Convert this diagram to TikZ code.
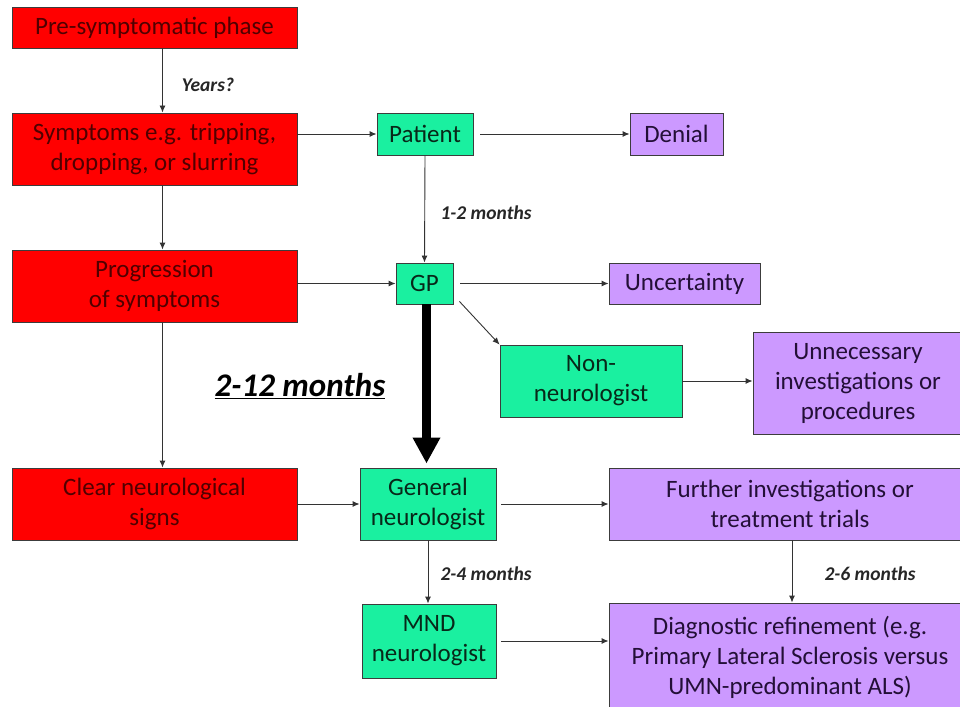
\documentclass[tikz,border=0pt]{standalone}
\usepackage{fontspec}
\setmainfont{Carlito}
\usetikzlibrary{arrows.meta, positioning}

\definecolor{boxred}{RGB}{255,0,0}
\definecolor{txtred}{RGB}{80,0,0}
\definecolor{boxgreen}{RGB}{26,240,160}
\definecolor{txtgreen}{RGB}{8,40,25}
\definecolor{boxpurple}{RGB}{204,153,255}
\definecolor{txtpurple}{RGB}{35,15,55}
\definecolor{edgegray}{RGB}{60,60,60}

\tikzstyle{phase} = [rectangle, draw=edgegray, fill=boxred, text=txtred, align=center, inner sep=0pt, line width=0.9pt, font=\fontsize{25}{30}\selectfont]
\tikzstyle{carer} = [rectangle, draw=edgegray, fill=boxgreen, text=txtgreen, align=center, inner sep=0pt, line width=0.9pt, font=\fontsize{25}{30}\selectfont]
\tikzstyle{outcome} = [rectangle, draw=edgegray, fill=boxpurple, text=txtpurple, align=center, inner sep=0pt, line width=0.9pt, font=\fontsize{25}{30}\selectfont]
\tikzstyle{delay} = [font=\fontsize{19.5}{23}\selectfont\bfseries\itshape, text=black!85]
\tikzstyle{arrow} = [line width=0.9pt, black!80, -{Latex[length=7pt,width=6pt]}]
\tikzstyle{bigarrow} = [line width=9pt, black, -{Triangle[length=26pt,width=26pt]}, shorten >=4pt]

\begin{document}
\begin{tikzpicture}[x=1pt, y=-1pt]
        \useasboundingbox (0,0) rectangle (960,706);
        \clip (0,0) rectangle (960,706);
        % Nodes
        \node (pre) [phase, minimum width=285pt, minimum height=41pt] at (154.5,27.5) {Pre-symptomatic phase};
        \node (sym) [phase, minimum width=285pt, minimum height=72pt] at (154.5,149) {Symptoms e.g. tripping,\\dropping, or slurring};
        \node (prog) [phase, minimum width=285pt, minimum height=72pt] at (154.5,286) {Progression\\of symptoms};
        \node (clear) [phase, minimum width=285pt, minimum height=72pt] at (154.5,504) {Clear neurological\\signs};
        \node (patient) [carer, minimum width=96pt, minimum height=42pt] at (425,134) {Patient};
        \node (denial) [outcome, minimum width=93pt, minimum height=42pt] at (676.5,134) {Denial};
        \node (gp) [carer, minimum width=57pt, minimum height=41pt] at (424.5,283.5) {GP};
        \node (uncert) [outcome, minimum width=151pt, minimum height=41pt] at (684.5,283.5) {Uncertainty};
        \node (nonneuro) [carer, minimum width=182pt, minimum height=72pt] at (591,381) {Non-\\neurologist};
        \node (unnec) [outcome, minimum width=210pt, minimum height=102pt] at (858,383) {Unnecessary\\investigations or\\procedures};
        \node (general) [carer, minimum width=136pt, minimum height=72pt] at (428,504) {General\\neurologist};
        \node (further) [outcome, minimum width=362pt, minimum height=72pt] at (790,504) {Further investigations or\\treatment trials};
        \node (mnd) [carer, minimum width=134pt, minimum height=74pt] at (429,641) {MND\\neurologist};
        \node (diag) [outcome, minimum width=362pt, minimum height=108pt] at (790,657) {Diagnostic refinement (e.g.\\Primary Lateral Sclerosis versus\\UMN-predominant ALS)};
        \coordinate (fx) at (792,0);

        % Arrows
        \draw [arrow] ([xshift=8pt]pre.south) -- ([xshift=8pt]sym.north);
        \draw [arrow] ([xshift=8pt]sym.south) -- ([xshift=8pt]prog.north);
        \draw [arrow] ([xshift=8pt]prog.south) -- ([xshift=8pt]clear.north);
        \draw [arrow] (sym.east |- patient.west) -- (patient.west);
        \draw [arrow, shorten <=7pt] (patient.east) -- (denial.west);
        \draw [arrow] (patient.south) -- (gp.north);
        \draw [arrow] (prog.east |- gp.west) -- (gp.west);
        \draw [arrow, shorten <=7pt] (gp.east) -- (uncert.west);
        \draw [arrow] ([xshift=6pt,yshift=3pt]gp.south east) -- (nonneuro.north west);
        \draw [arrow] (nonneuro.east) -- (unnec.west |- nonneuro.east);
        \draw [bigarrow] ([xshift=2pt]gp.south) -- ([xshift=2pt]gp.south |- general.north);
        \draw [arrow] (clear.east) -- (general.west);
        \draw [arrow, shorten <=5pt] (general.east) -- (further.west);
        \draw [arrow] (general.south) -- (mnd.north -| general.south);
        \draw [arrow, shorten <=5pt] (mnd.east) -- (diag.west |- mnd.east);
        \draw [arrow] (further.south -| fx) -- (diag.north -| fx);

        % Delay labels
        \node (yrs) [delay] at (208,85) {Years?};
        \node (m12) [delay] at (486,213) {1-2 months};
        \node (m24) [delay] at (486,574) {2-4 months};
        \node (m26) [delay] at (870,574) {2-6 months};
        \node (m212) [font=\fontsize{33}{38}\selectfont\bfseries\itshape] at (300,386) {\underline{2-12 months}};
\end{tikzpicture}
\end{document}
